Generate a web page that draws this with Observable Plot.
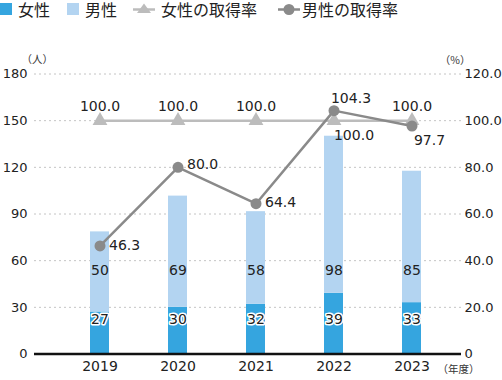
<!DOCTYPE html>
<html><head><meta charset="utf-8">
<script src="https://cdn.jsdelivr.net/npm/d3@7"></script>
<script src="https://cdn.jsdelivr.net/npm/@observablehq/plot@0.6"></script>
<style>
body{margin:0;background:#fff;}
#wrap{position:relative;width:502px;height:380px;overflow:hidden;}
#legend{position:absolute;left:0;top:0;}
#chart{position:absolute;left:0;top:25px;}
</style></head>
<body>
<div id="wrap"><div id="legend"></div><div id="chart"></div></div>
<script>
const years = ["2019","2020","2021","2022","2023"];
const female = [27,30,32,39,33];
const male = [50,69,58,98,85];
// male segment heights as drawn in the picture (slightly differ from labels)
const maleDrawn = [51.5,71.5,59.5,101,84.5];
const femaleRate = [100.0,100.0,100.0,100.0,100.0];
const maleRate = [46.3,80.0,64.4,104.3,97.7];
const leftTicks = [0,30,60,90,120,150,180];
const rightTicks = [0,20,40,60,80,100,120];
const series = ["女性","男性"];
const rateSeries = ["女性の取得率","男性の取得率"];
const barColors = ["#35a5df","#b3d4f1"];
const lineColors = ["#bcbcbc","#8a8a8a"];
const units = ["（人）","（%）","（年度）"];

const FONT = "'DejaVu Sans','Noto Sans CJK JP',sans-serif";
const CJK = "'Noto Sans CJK JP',sans-serif";
const k = 180/120; // right axis (%) to left axis (人)

const recs = years.map((year,i)=>({year, female:female[i], male:male[i], fr:femaleRate[i], mr:maleRate[i]}));
const rows = years.flatMap((year,i)=>[{year, sex:series[0], value:female[i]},{year, sex:series[1], value:maleDrawn[i]}]);

// Legend
const ns="http://www.w3.org/2000/svg";
const lg=document.createElementNS(ns,"svg");
lg.setAttribute("width",502);lg.setAttribute("height",25);
lg.style.overflow="visible";
function el(t,a,txt){const e=document.createElementNS(ns,t);for(const q in a)e.setAttribute(q,a[q]);if(txt!=null)e.textContent=txt;lg.appendChild(e);return e;}
el("rect",{x:0,y:3,width:12,height:12,fill:barColors[0]});
el("text",{x:18,y:16,"font-size":16,"font-family":CJK,fill:"#222"},series[0]);
el("rect",{x:67,y:3,width:12,height:12,fill:barColors[1]});
el("text",{x:85,y:16,"font-size":16,"font-family":CJK,fill:"#222"},series[1]);
el("line",{x1:133,x2:155,y1:9.5,y2:9.5,stroke:lineColors[0],"stroke-width":2.5});
el("path",{d:"M144,3.5L151,13L137,13Z",fill:lineColors[0]});
el("text",{x:161,y:16,"font-size":16,"font-family":CJK,fill:"#222"},rateSeries[0]);
el("line",{x1:278,x2:300,y1:9.5,y2:9.5,stroke:lineColors[1],"stroke-width":2.5});
el("circle",{cx:289,cy:9.5,r:5.5,fill:lineColors[1]});
el("text",{x:302,y:16,"font-size":16,"font-family":CJK,fill:"#222"},rateSeries[1]);
document.getElementById("legend").appendChild(lg);

const yr = (y)=>recs.filter(d=>d.year===y);
const maleLbl = (y,o)=>Plot.text(yr(y),{x:"year",y:d=>d.mr*k,text:d=>d.mr.toFixed(1),fontSize:14,fill:"#222",...o});

const chart = Plot.plot({
  width:502, height:355,
  marginLeft:34, marginRight:41, marginTop:48.5, marginBottom:26.5,
  style:{fontFamily:FONT, fontSize:"13px", color:"#222", background:"white", overflow:"visible"},
  x:{domain:years, paddingInner:0.756, paddingOuter:0.615, align:0.583, axis:null},
  y:{domain:[0,180], axis:null},
  color:{domain:series, range:barColors},
  marks:[
    Plot.gridY(leftTicks,{stroke:"#c4c4c4",strokeOpacity:1,strokeDasharray:"2,3"}),
    Plot.axisY(leftTicks,{anchor:"left",label:null,tickSize:0,tickPadding:7,fontSize:13}),
    Plot.axisY(rightTicks.map(v=>v*k),{anchor:"right",label:null,tickSize:0,tickPadding:3,fontSize:13,
      tickFormat:d=>{const p=Math.round(d/k);return p===0?"0":p.toFixed(1);}}),
    Plot.barY(rows,{x:"year",y:"value",fill:"sex"}),
    Plot.ruleY([0],{stroke:"#111",strokeWidth:2.5}),
    Plot.axisX(years,{label:null,tickSize:0,tickPadding:7,fontSize:14}),
    Plot.text(recs,{x:"year",text:"female",frameAnchor:"bottom",dy:-30.5,fontSize:14,fill:"#222",stroke:"white",strokeWidth:3,paintOrder:"stroke"}),
    Plot.text(recs,{x:"year",text:"male",frameAnchor:"bottom",dy:-78.8,fontSize:14,fill:"#222"}),
    Plot.line(recs,{x:"year",y:d=>d.fr*k,stroke:lineColors[0],strokeWidth:2.5}),
    Plot.dot(recs,{x:"year",y:d=>d.fr*k,symbol:"triangle",r:5.5,fill:lineColors[0]}),
    Plot.line(recs,{x:"year",y:d=>d.mr*k,stroke:lineColors[1],strokeWidth:2.5}),
    Plot.dot(recs,{x:"year",y:d=>d.mr*k,r:5.5,fill:lineColors[1]}),
    Plot.text(recs.filter(d=>d.year!=="2022"),{x:"year",y:d=>d.fr*k,text:d=>d.fr.toFixed(1),dy:-14.5,fontSize:14,fill:"#222"}),
    Plot.text(yr("2022"),{x:"year",y:d=>d.fr*k,text:d=>d.fr.toFixed(1),dx:20,dy:15,fontSize:14,fill:"#222"}),
    maleLbl("2019",{textAnchor:"start",dx:9,dy:0}),
    maleLbl("2020",{textAnchor:"start",dx:9,dy:-3}),
    maleLbl("2021",{textAnchor:"start",dx:9,dy:-1}),
    maleLbl("2022",{dx:17,dy:-12.5}),
    maleLbl("2023",{dx:17.5,dy:14}),
    Plot.text([units[0]],{frameAnchor:"top-left",dx:-13,dy:-18.5,fontSize:10.5,fontFamily:CJK,fill:"#333"}),
    Plot.text([units[1]],{frameAnchor:"top-right",dx:9,dy:-17,fontSize:10.5,fontFamily:CJK,fill:"#333"}),
    Plot.text([units[2]],{frameAnchor:"bottom-right",dx:18,dy:18.5,fontSize:10.5,fontFamily:CJK,fill:"#333"})
  ]
});
document.getElementById("chart").appendChild(chart);
</script>
</body></html>
